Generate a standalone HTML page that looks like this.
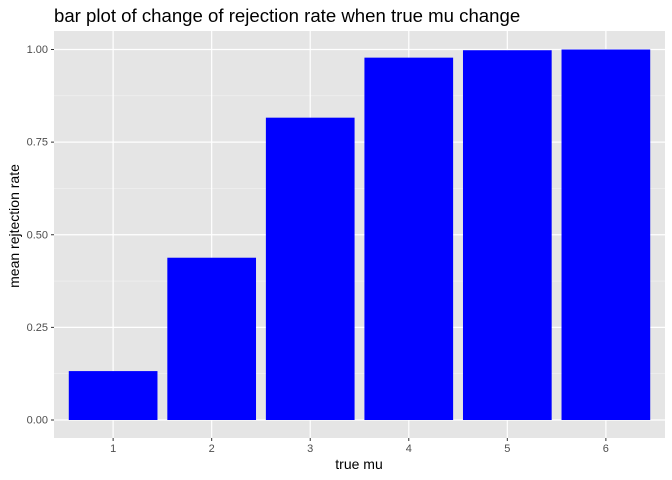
<!DOCTYPE html>
<html><head><meta charset="utf-8"><style>
body{margin:0;background:#fff;}
svg{display:block;font-family:"Liberation Sans",Arial,sans-serif;}
</style></head><body>
<svg id="chart" width="672" height="480">
<text x="54" y="22" font-size="18.6" fill="#000">bar plot of change of rejection rate when true mu change</text>
<rect x="54" y="31" width="611" height="407" fill="#e5e5e5"/>
<g id="grid"></g><g id="bars"></g><g id="axes"></g>
<text x="359" y="469" font-size="14" text-anchor="middle" fill="#000">true mu</text>
<text transform="translate(19,226) rotate(-90)" font-size="14" text-anchor="middle" fill="#000">mean rejtection rate</text>
</svg>
<script>
const categories=["1","2","3","4","5","6"];
const values=[0.132,0.438,0.816,0.978,0.998,1.0];
const yTicks=[0,0.25,0.5,0.75,1.0];
const yTickLabels=["0.00","0.25","0.50","0.75","1.00"];
const NS="http://www.w3.org/2000/svg";
const L=54,R=665,T=31,B=438;
const step=(R-L)/(categories.length+0.2);
const xs=i=>L+step*(0.6+i);
const ys=v=>420-v*370.5;
function mk(t,a,p){const e=document.createElementNS(NS,t);for(const k in a)e.setAttribute(k,a[k]);p.appendChild(e);return e;}
const g=document.getElementById('grid'),b=document.getElementById('bars'),ax=document.getElementById('axes');
for(let k=0;k<yTicks.length-1;k++){const y=ys((yTicks[k]+yTicks[k+1])/2);
const l=mk('line',{x1:L,x2:R,y1:y,y2:y,stroke:'#f2f2f2','stroke-width':0.6},g);

}
yTicks.forEach((v,k)=>{const y=ys(v);
const l=mk('line',{x1:L,x2:R,y1:y,y2:y,stroke:'#fff','stroke-width':1.2},g);


mk('line',{x1:L-3,x2:L,y1:y,y2:y,stroke:'#333','stroke-width':1},ax);
const t=mk('text',{x:L-6,y:y+3.5,'font-size':11,'text-anchor':'end',fill:'#4d4d4d'},ax);
t.textContent=yTickLabels[k];

});
categories.forEach((c,i)=>{const x=xs(i);
const l=mk('line',{x1:x,x2:x,y1:T,y2:B,stroke:'#fff','stroke-width':1.2},g);


const w=step*0.9;
const r=mk('rect',{x:x-w/2,y:ys(values[i]),width:w,height:ys(0)-ys(values[i]),fill:'#0000ff'},b);


mk('line',{x1:x,x2:x,y1:B,y2:B+3,stroke:'#333','stroke-width':1},ax);
const t=mk('text',{x:x,y:B+14,'font-size':11,'text-anchor':'middle',fill:'#4d4d4d'},ax);
t.textContent=c;

});
</script>
</body></html>
